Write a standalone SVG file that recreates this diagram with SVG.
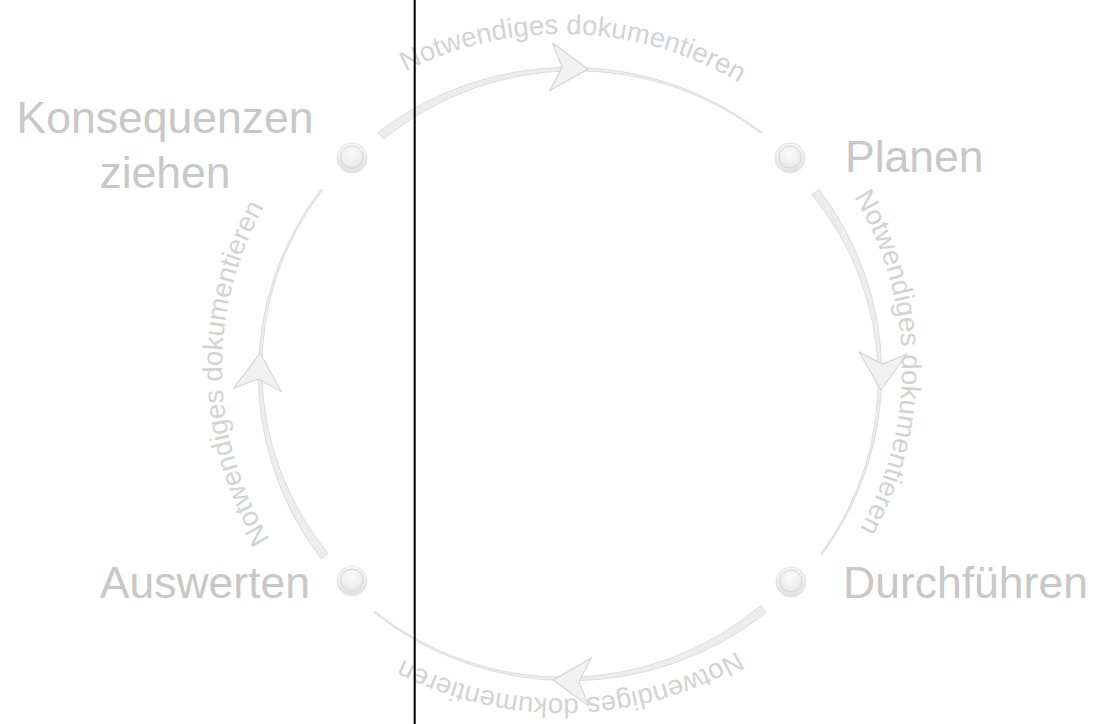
<svg xmlns="http://www.w3.org/2000/svg" width="1097" height="724" viewBox="0 0 1097 724">
<style>
.label{font-family:"Liberation Sans",Arial,Helvetica,sans-serif;font-size:44.5px;fill:#c8c8c8}
.flow{font-family:"Liberation Sans",Arial,Helvetica,sans-serif;font-size:27.5px;fill:#d3d3d3}
.arc{fill:#ededed;stroke:#d6d6d6;stroke-width:0.8;stroke-linejoin:round}
.head{fill:#f1f1f1;stroke:#d2d2d2;stroke-width:1;stroke-linejoin:round}
.ring{fill:url(#ringGrad);stroke:#e4e4e4;stroke-width:1}
.ball{fill:url(#ballGrad);stroke:#d4d4d4;stroke-width:0.9}
</style>
<defs>
<linearGradient id="ringGrad" x1="0" y1="0" x2="0" y2="1">
<stop offset="0" stop-color="#f7f7f7"/>
<stop offset="1" stop-color="#e0e0e0"/>
</linearGradient>
<radialGradient id="ballGrad" cx="0.45" cy="0.35" r="0.75">
<stop offset="0" stop-color="#fbfbfb"/>
<stop offset="0.6" stop-color="#efefef"/>
<stop offset="1" stop-color="#e0e0e0"/>
</radialGradient>
<path id="arrowShape" d="M0,0 L-37,-24 L-26,0 L-37,24 Z"/>
<path id="tpTop" d="M330.12,123.71 A340,334 0 0 1 810.68,140.21"/>
<path id="tpRight" d="M798.2,127.75 A340,334 0 0 1 806.56,600.03"/>
<path id="tpBottom" d="M808.64,594.43 A340,334 0 0 1 327.94,606.78"/>
<path id="tpLeft" d="M325.8,608.25 A340,334 0 0 1 317.44,135.97"/>
</defs>
<rect width="1097" height="724" fill="#ffffff"/>
<g id="connectors">
<g id="edge-planen-durchfuehren">
<path class="arc" d="M818.96,189.4 A311.75,306.75 0 0 1 822.21,554.31 L820.99,553.43 A300.7,295.7 0 0 0 811.98,194.66 Z"/>
<use href="#arrowShape" class="head" transform="translate(881,390) rotate(93)"/>
<text class="flow"><textPath href="#tpRight" startOffset="50%" text-anchor="middle">Notwendiges dokumentieren</textPath></text>
</g>
<g id="edge-durchfuehren-auswerten">
<path class="arc" d="M766.19,612.38 A311.75,306.75 0 0 1 373.81,612.38 L374.76,611.21 A300.7,295.7 0 0 0 760.68,605.58 Z"/>
<use href="#arrowShape" class="head" transform="translate(553,680) rotate(183)"/>
<text class="flow"><textPath href="#tpBottom" startOffset="50%" text-anchor="middle">Notwendiges dokumentieren</textPath></text>
</g>
<g id="edge-auswerten-konsequenzen">
<path class="arc" d="M321.04,558.6 A311.75,306.75 0 0 1 321.04,189.4 L322.23,190.3 A300.7,295.7 0 0 0 328.02,553.34 Z"/>
<use href="#arrowShape" class="head" transform="translate(260,353) rotate(274)"/>
<text class="flow"><textPath href="#tpLeft" startOffset="50%" text-anchor="middle">Notwendiges dokumentieren</textPath></text>
</g>
<g id="edge-konsequenzen-planen">
<path class="arc" d="M378.06,132.28 A311.75,306.75 0 0 1 761.94,132.28 L761.02,133.46 A300.7,295.7 0 0 0 383.44,139.18 Z"/>
<use href="#arrowShape" class="head" transform="translate(588,69) rotate(3.4)"/>
<text class="flow"><textPath href="#tpTop" startOffset="50%" text-anchor="middle">Notwendiges dokumentieren</textPath></text>
</g>
</g>
<g id="node-planen">
<circle class="ring" cx="790" cy="158" r="15"/>
<circle class="ball" cx="790" cy="157" r="11"/>
<text class="label" x="845" y="172">Planen</text>
</g>
<g id="node-durchfuehren">
<circle class="ring" cx="791" cy="582" r="15"/>
<circle class="ball" cx="791" cy="581" r="11"/>
<text class="label" x="843" y="598">Durchführen</text>
</g>
<g id="node-auswerten">
<circle class="ring" cx="352" cy="581" r="15"/>
<circle class="ball" cx="352" cy="580" r="11"/>
<text class="label" x="310" y="598" text-anchor="end">Auswerten</text>
</g>
<g id="node-konsequenzen">
<circle class="ring" cx="352" cy="158" r="15"/>
<circle class="ball" cx="352" cy="157" r="11"/>
<text class="label" x="165" y="133" text-anchor="middle">Konsequenzen</text>
<text class="label" x="165" y="188" text-anchor="middle">ziehen</text>
</g>
<line id="divider" x1="414.7" y1="0" x2="414.7" y2="724" stroke="#000000" stroke-width="2"/>
</svg>
